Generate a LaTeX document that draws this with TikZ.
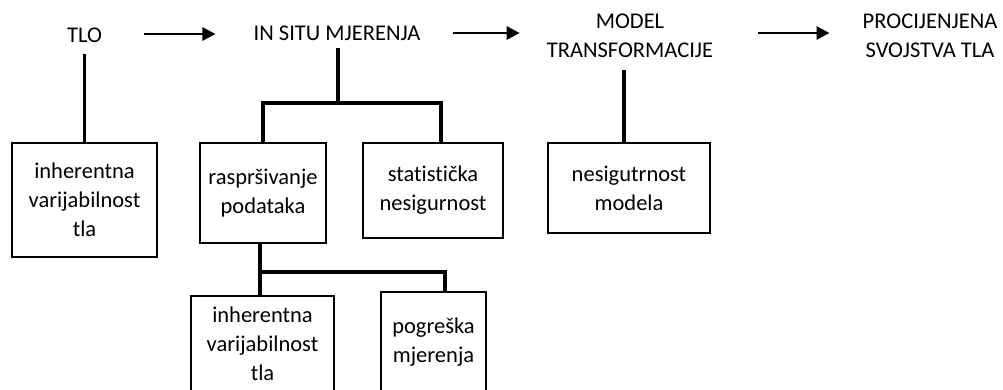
\documentclass[tikz,border=0pt]{standalone}
\usepackage{fontspec}
\setmainfont{Carlito}[Ligatures={NoCommon}]
\usetikzlibrary{arrows.meta,calc}
\begin{document}
\begin{tikzpicture}[x=1pt,y=-1pt,
 lbl/.style={align=center,font=\fontsize{22.5}{29}\selectfont,inner sep=0pt},
 box/.style={draw,line width=2pt,align=center,font=\fontsize{22.5}{29}\selectfont,inner sep=0pt},
 conn/.style={line width=3.2pt,line cap=rect},
 arr/.style={line width=2.8pt,-{Triangle[length=13pt,width=13pt]}}]
\useasboundingbox (0,0) rectangle (1003,389);
\clip (0,0) rectangle (1003,389);
% top labels
\node[lbl] (tlo) at (84.5,35) {TLO};
\node[lbl] (insitu) at (337,33) {IN SITU MJERENJA};
\node[lbl] (model) at (630,36) {MODEL\\TRANSFORMACIJE};
\node[lbl] (proc) at (930,36) {PROCIJENJENA\\SVOJSTVA TLA};
% boxes
\node[box,minimum width=145,minimum height=114] (b1) at (84.5,200) {inherentna\\varijabilnost\\tla};
\node[box,minimum width=126,minimum height=100] (b2) at (263,193) {raspršivanje\\podataka};
\node[box,minimum width=140,minimum height=95] (b3) at (433,190.5) {statistička\\nesigurnost};
\node[box,minimum width=162,minimum height=90] (b4) at (629,188) {nesigutrnost\\modela};
\node[box,minimum width=143,minimum height=96] (b5) at (262.5,344) {inherentna\\varijabilnost\\tla};
\node[box,minimum width=105,minimum height=100] (b6) at (433.5,342) {pogreška\\mjerenja};
% arrows
\draw[arr] ($(tlo.east |- insitu.east)+(42,1)$) -- ($(insitu.west)+(-38,1)$);
\draw[arr] ($(insitu.east)+(32,0)$) -- ($(model.west |- insitu.east)+(-27,0)$);
\draw[arr] ($(model.east |- insitu.east)+(45,0)$) -- ($(proc.west |- insitu.east)+(-33,0)$);
% tree connectors
\coordinate (j1) at (338,103);
\coordinate (j2) at (260,272);
\draw[conn,shorten <=13pt] (tlo.south) -- (b1.north);
\draw[conn,shorten <=9pt] (j1 |- insitu.south) -- (j1);
\draw[conn] (b2.north) |- (j1) -| ($(b3.north)+(8,0)$);
\draw[conn,shorten <=14pt] ($(model.south)+(-6,0)$) -- ($(model.south |- b4.north)+(-6,0)$);
\draw[conn] ($(b2.south)+(-3,0)$) -- ($(b5.north)+(-2.5,0)$);
\draw[conn] (j2) -| ($(b6.north)+(11.5,0)$);
\end{tikzpicture}
\end{document}
